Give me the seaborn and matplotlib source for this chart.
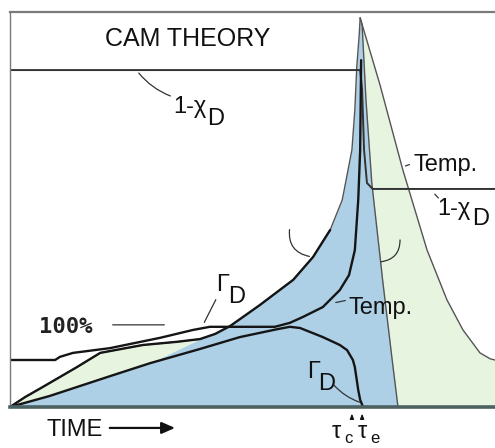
import matplotlib
matplotlib.use("Agg")
import matplotlib.pyplot as plt
import numpy as np
import seaborn as sns

# chart values (time 0-100, level 0-100)
outer_t = [0, 3.1, 6.8, 13.8, 18.6, 27.4, 34.4, 39.2, 42.3, 45.4, 51.5, 58.4, 62.5, 66.0,
           68.5, 69.7, 70.5, 71.1, 71.5, 72.0, 72.2]
outer_v = [0, 2.5, 5.1, 10.1, 13.7, 15.7, 16.5, 17.2, 18.5, 20.5, 25.8, 32.2, 38.0, 44.8,
           52.4, 60.0, 65.1, 75.2, 86.1, 94.2, 98.5]

tail_t = [72.2, 76.3, 81.0, 86.0, 90.1, 93.4, 96.9, 99.0, 100]
tail_v = [98.5, 81.5, 60.0, 39.7, 27.1, 19.5, 13.7, 12.2, 11.9]

edge_t = [72.2, 72.6, 73.4, 74.6, 76.9, 78.8, 80.0]
edge_v = [98.5, 96.7, 77.7, 56.7, 31.4, 11.9, 0]

temp_t = [0, 9.3, 10.3, 13.0, 20.6, 30.9, 37.7, 41.2, 49.5, 54.6, 57.7, 60.4, 64.5, 68.0,
          69.9, 71.1, 71.8, 72.2, 72.4]
temp_v = [11.9, 11.9, 12.7, 13.7, 14.9, 17.5, 19.5, 20.3, 20.3, 20.3, 21.3, 22.8, 25.3, 29.6,
          33.4, 39.7, 52.4, 65.1, 87.8]

gamma_t = [0, 8.2, 20.6, 28.9, 39.2, 47.4, 55.1, 57.7, 59.8, 64.5, 68.0, 69.5, 70.7, 71.1,
           71.5, 71.8, 72.2, 72.8]
gamma_v = [0, 2.8, 7.8, 11.1, 14.7, 17.7, 19.7, 20.3, 20.0, 17.7, 15.7, 14.4, 11.9, 10.1,
           6.8, 4.3, 1.8, 0]

chi_t = [0, 72.2, 72.6, 73.0, 73.6, 74.8, 100]
chi_v = [85.3, 85.3, 80.3, 65.1, 56.7, 55.2, 55.2]

tau_c = 70.5
tau_e = 72.6

sns.set_style("white")
fam = ["Liberation Sans", "DejaVu Sans"]
plt.rcParams["font.family"] = fam

fig = plt.figure(figsize=(4.95, 4.48), dpi=100)
ax = fig.add_axes([10 / 495, 41 / 448, 485 / 495, 395 / 448])

# fills: pale green under the outer temperature, blue on top
green_t = outer_t + tail_t[1:]
green_v = outer_v + tail_v[1:]
ax.fill_between(green_t, 0, green_v, color="#e7f4df", lw=0)

blue_t = gamma_t[:4] + outer_t[7:] + edge_t[1:]
blue_v = gamma_v[:4] + outer_v[7:] + edge_v[1:]
ax.fill_between(blue_t, 0, blue_v, color="#aed0e6", lw=0)

thin = dict(color="#555555", linewidth=1.0, estimator=None, sort=False, ax=ax)
dark = dict(color="#151515", linewidth=1.7, estimator=None, sort=False, ax=ax)
sns.lineplot(x=outer_t, y=outer_v, **thin)
sns.lineplot(x=tail_t, y=tail_v, **thin)
sns.lineplot(x=edge_t, y=edge_v, **thin)
sns.lineplot(x=chi_t, y=chi_v, color="#333333", linewidth=1.4, estimator=None, sort=False, ax=ax)
sns.lineplot(x=outer_t[:14], y=outer_v[:14], **dark)
sns.lineplot(x=temp_t, y=temp_v, **dark)
sns.lineplot(x=gamma_t, y=gamma_v, **dark)

ax.set_xlim(0, 100)
ax.set_ylim(0, 100)
ax.set_xticks([])
ax.set_yticks([])
ax.set_xlabel("")
ax.set_ylabel("")
ax.spines["right"].set_visible(False)
ax.spines["top"].set_color("#7a7a7a")
ax.spines["top"].set_linewidth(1.6)
ax.spines["left"].set_color("#7a7a7a")
ax.spines["left"].set_linewidth(1.0)
ax.spines["bottom"].set_color("#4c6262")
ax.spines["bottom"].set_linewidth(2.6)

big = dict(fontsize=17, color="#111111", va="center", ha="left", family=fam)
ax.text(19.6, 93.2, "CAM THEORY", fontsize=18, color="#111111", va="center", ha="left",
        family=fam)
ax.text(33.6, 75.9, "1-χ", **big)
ax.text(40.6, 72.9, "D", **big)
ax.text(83.1, 61.3, "Temp.", **big)
ax.text(88.0, 50.1, "1-χ", **big)
ax.text(95.3, 47.6, "D", **big)
ax.text(69.7, 25.1, "Temp.", **big)
ax.text(42.4, 30.8, "Γ", **big)
ax.text(44.9, 27.9, "D", **big)
ax.text(61.2, 8.8, "Γ", **big)
ax.text(63.6, 5.9, "D", **big)
ax.text(6.0, 20.3, "100%", fontsize=16, fontweight="bold", color="#222222",
        va="center", ha="left", family="DejaVu Sans Mono")

lead = dict(arrowstyle="-", color="#333333", lw=0.9)
ax.annotate("", xy=(26.2, 85.1), xytext=(33.6, 78.5),
            arrowprops=dict(connectionstyle="arc3,rad=-0.15", **lead))
ax.annotate("", xy=(81.0, 60.8), xytext=(82.9, 61.6), arrowprops=lead)
ax.annotate("", xy=(87.2, 54.4), xytext=(88.7, 52.4), arrowprops=lead)
ax.annotate("", xy=(39.8, 20.8), xytext=(42.7, 27.8), arrowprops=lead)
ax.annotate("", xy=(20.6, 20.8), xytext=(32.4, 20.8), arrowprops=lead)
ax.annotate("", xy=(66.6, 26.3), xytext=(69.7, 27.1), arrowprops=lead)
ax.annotate("", xy=(72.6, 1.0), xytext=(66.4, 6.1),
            arrowprops=dict(connectionstyle="arc3,rad=0.15", **lead))
# bracket arcs
ax.annotate("", xy=(62.3, 38.0), xytext=(57.7, 45.6),
            arrowprops=dict(connectionstyle="arc3,rad=0.5", **lead))
ax.annotate("", xy=(75.9, 36.7), xytext=(80.4, 43.0),
            arrowprops=dict(connectionstyle="arc3,rad=-0.5", **lead))

# below the axis
ax.text(7.6, -5.8, "TIME", clip_on=False, **big)
ax.annotate("", xy=(34.6, -5.3), xytext=(20.0, -5.3), annotation_clip=False,
            arrowprops=dict(arrowstyle="-|>,head_length=0.8,head_width=0.35",
                            color="#111111", lw=1.6))
small = dict(fontsize=12, color="#111111", va="center", ha="left", family=fam)
ax.text(66.4, -6.3, "τ", clip_on=False, **big)
ax.text(69.0, -7.9, "c", clip_on=False, **small)
ax.text(71.6, -6.3, "τ", clip_on=False, **big)
ax.text(74.2, -7.9, "e", clip_on=False, **small)
for t in (tau_c, tau_e):
    ax.annotate("", xy=(t, -1.0), xytext=(t, -3.8), annotation_clip=False,
                arrowprops=dict(arrowstyle="-|>,head_length=0.3,head_width=0.12",
                                color="#111111", lw=0.8))

plt.savefig("out.png", dpi=100)
plt.close()
